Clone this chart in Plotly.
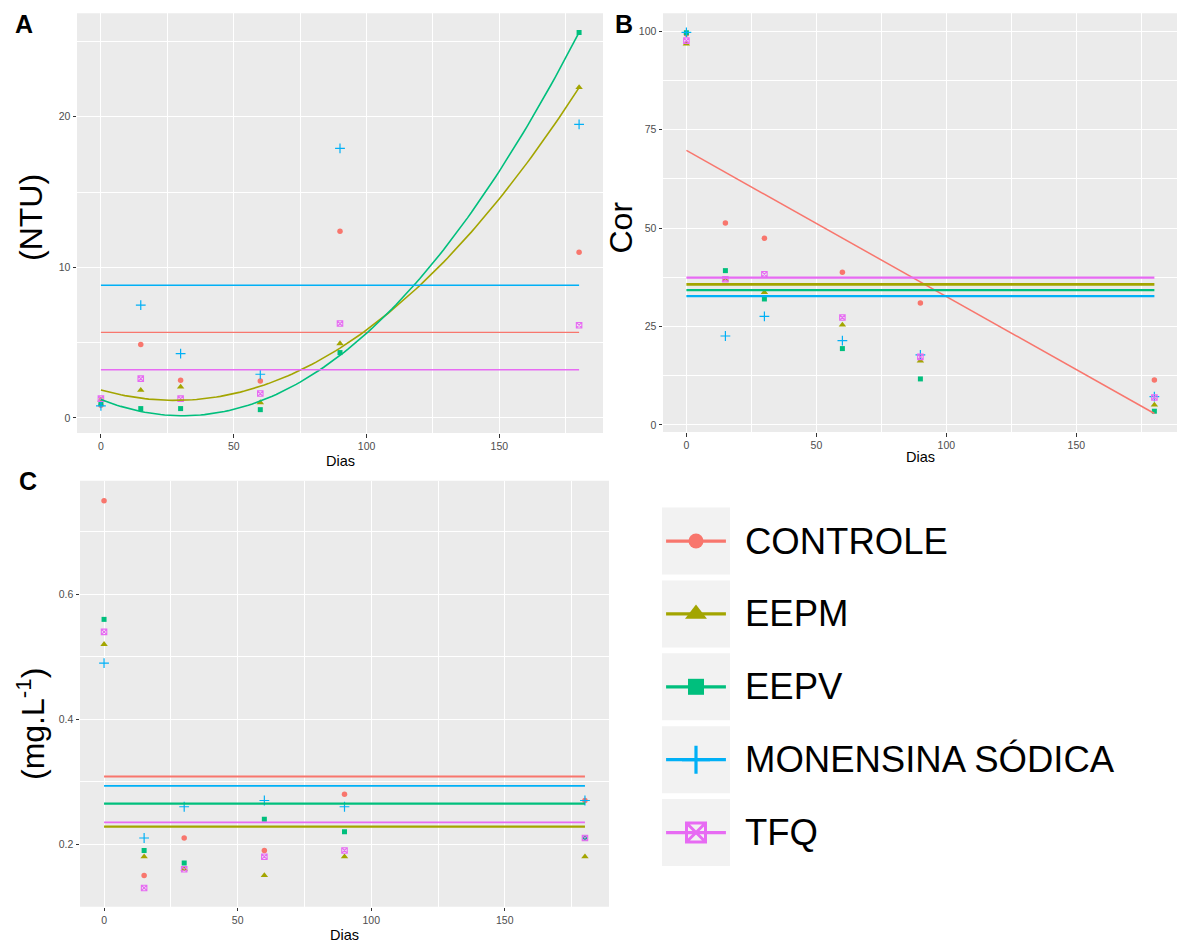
import numpy as np
import plotly.graph_objects as go

W, H = 1177, 945

# ---------------- data ----------------
DAYS = [0, 15, 30, 60, 90, 180]
SERIES = ["CONTROLE", "EEPM", "EEPV", "MONENSINA SÓDICA", "TFQ"]
COLORS = ["#F8766D", "#A3A500", "#00BF7D", "#00B0F6", "#E76BF3"]

# Panel A : turbidez (NTU)
NTU_CONTROLE = [0.85, 4.87, 2.50, 2.46, 12.40, 11.00]
NTU_EEPM = [1.20, 1.84, 2.06, 1.02, 4.94, 21.95]
NTU_EEPV = [0.95, 0.62, 0.62, 0.55, 4.34, 25.60]
NTU_MONENSINA = [0.80, 7.49, 4.27, 2.90, 17.90, 19.50]
NTU_TFQ = [1.28, 2.61, 1.28, 1.62, 6.27, 6.16]
NTU_FIT_DEG = [0, 2, 2, 0, 0]

# Panel B : cor
COR_CONTROLE = [99.3, 51.3, 47.4, 38.8, 31.0, 11.4]
COR_EEPM = [96.8, 36.9, 33.7, 25.4, 16.3, 5.1]
COR_EEPV = [99.6, 39.2, 32.0, 19.4, 11.7, 3.5]
COR_MONENSINA = [99.7, 22.6, 27.6, 21.4, 17.8, 7.2]
COR_TFQ = [97.6, 37.0, 38.3, 27.3, 17.3, 7.0]
COR_FIT_DEG = [1, 0, 0, 0, 0]

# Panel C : mg.L-1
MG_CONTROLE = [0.75, 0.15, 0.21, 0.19, 0.28, 0.27]
MG_EEPM = [0.52, 0.18, 0.16, 0.15, 0.18, 0.18]
MG_EEPV = [0.56, 0.19, 0.17, 0.24, 0.22, 0.21]
MG_MONENSINA = [0.49, 0.21, 0.26, 0.27, 0.26, 0.27]
MG_TFQ = [0.54, 0.13, 0.16, 0.18, 0.19, 0.21]
MG_FIT_DEG = [0, 0, 0, 0, 0]

# ---------------- styles ----------------
SYMBOLS = ["circle", "triangle-up", "square", "cross-thin-open", "square-x-open"]
PT_SIZE = [5.5, 6.5, 5, 7, 5.5]
PT_LW = [0, 0, 0, 1.2, 1.1]
LEG_SIZE = [15, 19, 16, 20, 19]
LEG_LW = [0, 0, 0, 3.2, 3.0]

FONT = "Liberation Sans, Arial, sans-serif"
PANEL_BG = "#EBEBEB"


def px_x(p):
    return p / W


def px_y(p):
    return 1 - p / H


panels = [
    dict(xa="x", ya="y", data=[NTU_CONTROLE, NTU_EEPM, NTU_EEPV, NTU_MONENSINA, NTU_TFQ],
         deg=NTU_FIT_DEG, lw=[1.4, 1.6, 1.6, 1.4, 1.4],
         xdom=(77, 603), ydom=(13.3, 433), xr=(-9, 189), yr=(-1.0, 26.87), dy=10),
    dict(xa="x2", ya="y2", data=[COR_CONTROLE, COR_EEPM, COR_EEPV, COR_MONENSINA, COR_TFQ],
         deg=COR_FIT_DEG, lw=[1.5, 2.6, 2.2, 2.2, 2.2],
         xdom=(663, 1177), ydom=(13.3, 432), xr=(-9, 188.7), yr=(-1.78, 104.55), dy=25),
    dict(xa="x3", ya="y3", data=[MG_CONTROLE, MG_EEPM, MG_EEPV, MG_MONENSINA, MG_TFQ],
         deg=MG_FIT_DEG, lw=[2.0, 2.2, 2.4, 1.8, 1.8],
         xdom=(80, 609), ydom=(480.7, 906.7), xr=(-9, 189), yr=(0.100, 0.782), dy=0.2),
]

fig = go.Figure()
shapes = []
layout_axes = {}

xs_fit = np.linspace(min(DAYS), max(DAYS), 121)

for k, p in enumerate(panels):
    # points
    for i, name in enumerate(SERIES):
        fig.add_trace(go.Scatter(
            x=DAYS, y=p["data"][i], mode="markers", name=name, showlegend=False,
            xaxis=p["xa"], yaxis=p["ya"], hoverinfo="x+y+name",
            marker=dict(symbol=SYMBOLS[i], size=PT_SIZE[i], color=COLORS[i],
                        line=dict(width=PT_LW[i], color=COLORS[i])),
        ))
    # fitted lines (lm with polynomial of given degree, like geom_smooth)
    for i, name in enumerate(SERIES):
        coef = np.polyfit(DAYS, p["data"][i], p["deg"][i])
        fig.add_trace(go.Scatter(
            x=xs_fit, y=np.polyval(coef, xs_fit), mode="lines", name=name,
            showlegend=False, xaxis=p["xa"], yaxis=p["ya"], hoverinfo="skip",
            line=dict(color=COLORS[i], width=p["lw"][i]),
        ))
    n = "" if k == 0 else str(k + 1)
    common = dict(showgrid=True, gridcolor="white", gridwidth=1.1, zeroline=False,
                  showline=False, ticks="outside", ticklen=3.5, tickwidth=1.1,
                  tickcolor="#333333", tickfont=dict(family=FONT, size=10.5, color="#4D4D4D"))
    layout_axes["xaxis" + n] = dict(
        domain=[px_x(p["xdom"][0]), px_x(p["xdom"][1])], range=list(p["xr"]),
        anchor="y" + n, tick0=0, dtick=50,
        minor=dict(dtick=25, tick0=0, showgrid=True, gridcolor="white", gridwidth=0.55, ticks=""),
        **common)
    layout_axes["yaxis" + n] = dict(
        domain=[px_y(p["ydom"][1]), px_y(p["ydom"][0])], range=list(p["yr"]),
        anchor="x" + n, tick0=0, dtick=p["dy"],
        minor=dict(dtick=p["dy"] / 2, tick0=0, showgrid=True, gridcolor="white", gridwidth=0.55, ticks=""),
        **common)
    shapes.append(dict(type="rect", xref=p["xa"] + " domain", yref=p["ya"] + " domain",
                       x0=0, x1=1, y0=0, y1=1, fillcolor=PANEL_BG, line=dict(width=0),
                       layer="below"))

# ---------------- legend (own axis) ----------------
LEG_IDX = list(range(len(SERIES)))
for i, name in enumerate(SERIES):
    fig.add_trace(go.Scatter(
        x=[0.06, 0.94], y=[LEG_IDX[i], LEG_IDX[i]], mode="lines", xaxis="x4", yaxis="y4",
        showlegend=False, hoverinfo="skip", line=dict(color=COLORS[i], width=3.3)))
    fig.add_trace(go.Scatter(
        x=[0.5], y=[LEG_IDX[i]], mode="markers", xaxis="x4", yaxis="y4", name=name,
        showlegend=False, hoverinfo="name",
        marker=dict(symbol=SYMBOLS[i], size=LEG_SIZE[i], color=COLORS[i],
                    line=dict(width=LEG_LW[i], color=COLORS[i]))))
    shapes.append(dict(type="rect", xref="x4", yref="y4", x0=0, x1=1,
                       y0=LEG_IDX[i] - 0.46, y1=LEG_IDX[i] + 0.46,
                       fillcolor="#F2F2F2", line=dict(width=0), layer="below"))

layout_axes["xaxis4"] = dict(domain=[px_x(662), px_x(730)], range=[0, 1], visible=False,
                             anchor="y4", fixedrange=True)
layout_axes["yaxis4"] = dict(domain=[px_y(869), px_y(504.6)], range=[4.5, -0.5], visible=False,
                             anchor="x4", fixedrange=True)

annotations = []
for i, name in enumerate(SERIES):
    annotations.append(dict(text=name, xref="x4", yref="y4", x=1, y=LEG_IDX[i], xshift=12.5,
                            xanchor="left", yanchor="middle", showarrow=False,
                            font=dict(family=FONT, size=36.5, color="black")))

# axis titles and panel letters
def ann(text, x, y, size, angle=0, bold=False, color="black"):
    return dict(text=("<b>%s</b>" % text) if bold else text, xref="paper", yref="paper",
                x=px_x(x), y=px_y(y), xanchor="center", yanchor="middle", showarrow=False,
                textangle=angle, font=dict(family=FONT, size=size, color=color))

annotations += [
    ann("Dias", 340, 461, 14.5),
    ann("Dias", 920, 457, 14.5),
    ann("Dias", 344.5, 935, 14.5),
    ann("(NTU)", 31, 218, 32, angle=-90),
    ann("Cor", 621, 227.5, 32, angle=-90),
    ann("(mg.L<sup>-1</sup>)", 31, 724, 32, angle=-90),
    ann("A", 24, 24, 25, bold=True),
    ann("B", 623.5, 24, 25, bold=True),
    ann("C", 28, 481, 25, bold=True),
]

fig.update_layout(
    width=W, height=H, margin=dict(l=0, r=0, t=0, b=0),
    paper_bgcolor="white", plot_bgcolor="rgba(0,0,0,0)",
    showlegend=False, shapes=shapes, annotations=annotations,
    font=dict(family=FONT), **layout_axes,
)

fig.write_html("out.html", config={"displayModeBar": False},
               post_script="document.body.style.margin='0';document.body.style.overflow='hidden';")
